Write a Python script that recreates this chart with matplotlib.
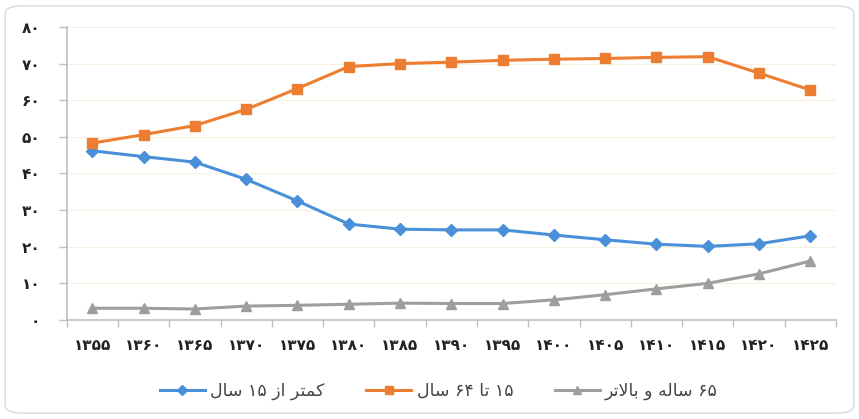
import matplotlib
matplotlib.use("Agg")
import matplotlib.pyplot as plt
from matplotlib.patches import FancyBboxPatch
from matplotlib.ticker import FixedLocator, FuncFormatter

# ---- data ----
years = [1355, 1360, 1365, 1370, 1375, 1380, 1385, 1390, 1395, 1400, 1405, 1410, 1415, 1420, 1425]
under15 = [46.2, 44.6, 43.1, 38.4, 32.5, 26.2, 24.8, 24.6, 24.6, 23.2, 21.9, 20.7, 20.1, 20.8, 23.0]
age15_64 = [48.3, 50.6, 53.1, 57.5, 63.2, 69.2, 70.0, 70.4, 70.9, 71.2, 71.4, 71.7, 71.9, 67.4, 62.8]
age65plus = [3.2, 3.2, 3.0, 3.8, 4.0, 4.3, 4.6, 4.5, 4.5, 5.5, 6.9, 8.5, 10.0, 12.6, 16.1]
series_labels = ["کمتر از ۱۵ سال", "۱۵ تا ۶۴ سال", "۶۵ ساله و بالاتر"]
yticks = [0, 10, 20, 30, 40, 50, 60, 70, 80]

# ---- minimal Persian shaping (matplotlib has no bidi/shaping) ----
FORMS = {
    'ک': ('\uFB8E', '\uFB8F', '\uFB90', '\uFB91'),
    'م': ('\uFEE1', '\uFEE2', '\uFEE3', '\uFEE4'),
    'ت': ('\uFE95', '\uFE96', '\uFE97', '\uFE98'),
    'ر': ('\uFEAD', '\uFEAE', None, None),
    'ا': ('\uFE8D', '\uFE8E', None, None),
    'ز': ('\uFEAF', '\uFEB0', None, None),
    'س': ('\uFEB1', '\uFEB2', '\uFEB3', '\uFEB4'),
    'ل': ('\uFEDD', '\uFEDE', '\uFEDF', '\uFEE0'),
    'ه': ('\uFEE9', '\uFEEA', '\uFEEB', '\uFEEC'),
    'و': ('\uFEED', '\uFEEE', None, None),
    'ب': ('\uFE8F', '\uFE90', '\uFE91', '\uFE92'),
}
DIGITS = set('۰۱۲۳۴۵۶۷۸۹0123456789')


def shape(text):
    out = []
    i = 0
    n = len(text)
    while i < n:
        ch = text[i]
        if ch not in FORMS:
            out.append(ch)
            i += 1
            continue
        prev = text[i - 1] if i > 0 else ''
        prev_conn = prev in FORMS and FORMS[prev][2] is not None
        if ch == 'ل' and i + 1 < n and text[i + 1] == 'ا':
            out.append('\uFEFC' if prev_conn else '\uFEFB')
            i += 2
            continue
        nxt = text[i + 1] if i + 1 < n else ''
        dual = FORMS[ch][2] is not None
        next_conn = dual and nxt in FORMS
        if prev_conn and next_conn:
            out.append(FORMS[ch][3])
        elif prev_conn:
            out.append(FORMS[ch][1])
        elif next_conn:
            out.append(FORMS[ch][2])
        else:
            out.append(FORMS[ch][0])
        i += 1
    return ''.join(out)


def visual(text):
    s = shape(text)
    runs = []
    cur = ''
    cur_digit = None
    for ch in s:
        d = ch in DIGITS
        if cur and d != cur_digit:
            runs.append((cur, cur_digit))
            cur = ''
        cur += ch
        cur_digit = d
    if cur:
        runs.append((cur, cur_digit))
    return ''.join(r if d else r[::-1] for r, d in reversed(runs))


FA = str.maketrans('0123456789', '۰۱۲۳۴۵۶۷۸۹')


def fa_num(v):
    return str(int(v)).translate(FA)


# ---- figure ----
fig = plt.figure(figsize=(8.59, 4.19), dpi=100)
fig.patch.set_facecolor('white')
border = FancyBboxPatch((0.006, 0.014), 0.988, 0.972,
                        boxstyle="round,pad=0,rounding_size=0.02",
                        transform=fig.transFigure, facecolor='white',
                        edgecolor='#d9d9d9', linewidth=1.0, zorder=-10)
fig.patches.append(border)

ax = fig.add_axes([0.0776, 0.2363, 0.8956, 0.6993])
ax.set_facecolor('none')

x = list(range(len(years)))
ax.plot(x, under15, color='#4a90d9', lw=2.2, marker='D', ms=6, label=visual(series_labels[0]), zorder=3)
ax.plot(x, age15_64, color='#ed7d31', lw=2.2, marker='s', ms=7, label=visual(series_labels[1]), zorder=3)
ax.plot(x, age65plus, color='#9e9e9e', lw=2.2, marker='^', ms=7.5, label=visual(series_labels[2]), zorder=3)

ax.set_xlim(-0.5, len(years) - 0.5)
ax.set_ylim(0, 80)
ax.set_xticks(x)
ax.set_xticklabels([fa_num(y) for y in years], fontsize=11, fontweight='bold', color='#222222')
ax.xaxis.set_minor_locator(FixedLocator([i - 0.5 for i in range(len(years) + 1)]))
ax.tick_params(axis='x', which='major', length=0, pad=13)
ax.tick_params(axis='x', which='minor', length=5, color='#bfbfbf', width=1)
ax.set_yticks(yticks)
ax.yaxis.set_major_formatter(FuncFormatter(lambda v, p: fa_num(v)))
ax.tick_params(axis='y', length=6, color='#bfbfbf', width=1, pad=13, labelsize=11, labelcolor='#222222')
for t in ax.get_yticklabels():
    t.set_fontweight('bold')

ax.grid(axis='y', color='#f7f1e1', lw=0.8, zorder=0)
for s in ['top', 'right']:
    ax.spines[s].set_visible(False)
for s in ['left', 'bottom']:
    ax.spines[s].set_color('#bfbfbf')
    ax.spines[s].set_linewidth(1.2)

leg = fig.legend(loc='center', bbox_to_anchor=(0.511, 0.067), ncol=3, frameon=False,
                 fontsize=12.5, handlelength=2.6, columnspacing=2.4, handletextpad=0.3,
                 markerscale=0.8, labelcolor='#444444')

fig.savefig('out.png', dpi=100, facecolor='white')
